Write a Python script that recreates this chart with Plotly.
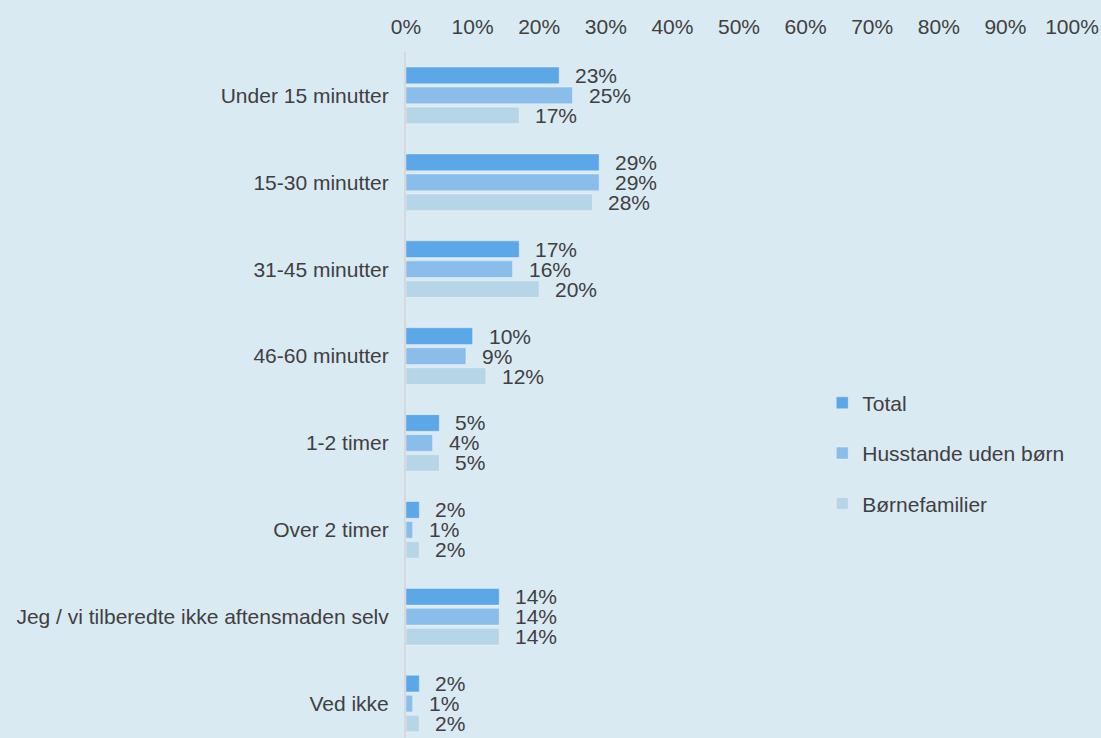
import plotly.graph_objects as go

# Survey answers: time spent preparing dinner
categories = [
    "Under 15 minutter",
    "15-30 minutter",
    "31-45 minutter",
    "46-60 minutter",
    "1-2 timer",
    "Over 2 timer",
    "Jeg / vi tilberedte ikke aftensmaden selv",
    "Ved ikke",
]
series_names = ["Total", "Husstande uden børn", "Børnefamilier"]
total = [23, 29, 17, 10, 5, 2, 14, 2]
uden_boern = [25, 29, 16, 9, 4, 1, 14, 1]
boernefamilier = [17, 28, 20, 12, 5, 2, 14, 2]
x_ticks = [0, 10, 20, 30, 40, 50, 60, 70, 80, 90, 100]

series_values = [total, uden_boern, boernefamilier]
colors = ["#5ba7e8", "#8bbdeb", "#b6d6e7"]
label_shift = [20, 0, -20]

BG = "#daeaf3"
TEXT = "#404040"
FONT = "Liberation Sans, Arial, sans-serif"

fig = go.Figure()
for i, (name, vals) in enumerate(zip(series_names, series_values)):
    fig.add_trace(go.Bar(
        y=categories,
        x=vals,
        name=name,
        orientation="h",
        marker=dict(color=colors[i], line=dict(color="rgba(255,255,255,0.35)", width=1)),
        legendgroup=name,
        hoverinfo="skip",
    ))
    for cat, v in zip(categories, vals):
        fig.add_annotation(
            x=v, y=cat, text=f"{v}%", showarrow=False,
            xanchor="left", yanchor="middle", xshift=14, yshift=label_shift[i],
            font=dict(family=FONT, size=21, color=TEXT),
        )

fig.update_layout(
    width=1101,
    height=738,
    paper_bgcolor=BG,
    plot_bgcolor=BG,
    margin=dict(l=406, r=29, t=52, b=0),
    barmode="group",
    bargap=0.31,
    bargroupgap=0.165,
    font=dict(family=FONT, size=21, color=TEXT),
    showlegend=True,
    legend=dict(
        x=0.625, y=0.518, xanchor="left", yanchor="top",
        bgcolor="rgba(0,0,0,0)", tracegroupgap=20,
        font=dict(family=FONT, size=21, color=TEXT),
        traceorder="grouped",
    ),
    xaxis=dict(
        side="top",
        range=[0, 100],
        tickvals=x_ticks,
        ticktext=[f"{t}%" for t in x_ticks],
        showgrid=False,
        zeroline=False,
        showline=False,
        ticks="",
        ticklabelstandoff=13,
        fixedrange=True,
    ),
    yaxis=dict(
        categoryorder="array",
        categoryarray=categories,
        range=[7.396, -0.5],
        showgrid=False,
        zeroline=False,
        showline=True,
        linecolor="#d6d9db",
        linewidth=2,
        ticks="",
        ticklabelstandoff=11,
        fixedrange=True,
    ),
)

fig.write_html("out.html")
